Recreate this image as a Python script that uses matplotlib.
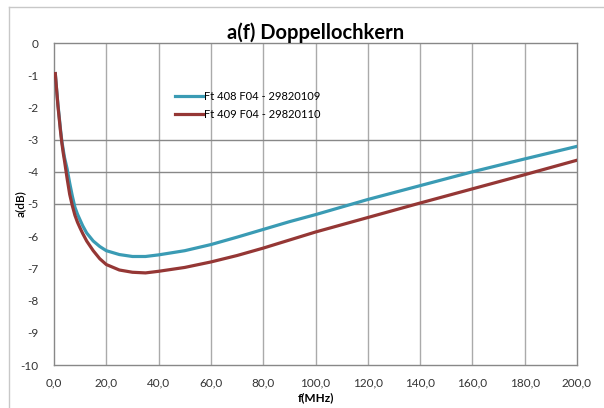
import matplotlib
matplotlib.use("Agg")
import matplotlib.pyplot as plt
from matplotlib.lines import Line2D

# values
freq_mhz = [0.5, 1.0, 1.5, 2.0, 2.5, 3.0, 3.5, 4.0, 5.0, 6.0, 7.0, 8.0, 9.0, 10.0,
            11.0, 12.5, 15.0, 17.5, 20, 25, 30, 35, 40, 50, 60, 70, 80, 90, 100,
            120, 140, 160, 180, 200]
ft408 = [-0.95, -1.45, -1.9, -2.3, -2.7, -3.05, -3.3, -3.55, -3.9, -4.35, -4.75, -5.1,
         -5.32, -5.5, -5.68, -5.9, -6.15, -6.32, -6.45, -6.57, -6.63, -6.63, -6.58,
         -6.45, -6.26, -6.03, -5.79, -5.55, -5.33, -4.86, -4.43, -4.0, -3.6, -3.21]
ft409 = [-0.95, -1.45, -1.95, -2.35, -2.75, -3.1, -3.4, -3.65, -4.2, -4.7, -5.05, -5.35,
         -5.57, -5.75, -5.92, -6.15, -6.45, -6.7, -6.88, -7.05, -7.12, -7.14, -7.09,
         -6.97, -6.8, -6.6, -6.37, -6.12, -5.87, -5.42, -4.97, -4.53, -4.09, -3.64]
series_labels = ["Ft 408 F04 - 29820109", "Ft 409 F04 - 29820110"]
x_ticks = [0, 20, 40, 60, 80, 100, 120, 140, 160, 180, 200]
y_ticks = [0, -1, -2, -3, -4, -5, -6, -7, -8, -9, -10]
grid_db = [-3, -4, -5]

plt.rcParams["font.family"] = ["Lato", "DejaVu Sans"]

fig = plt.figure(figsize=(6.04, 4.08), dpi=100)
fig.patch.set_facecolor("white")
ax = fig.add_axes([54 / 604, 1 - 365 / 408, 523 / 604, 322 / 408])

# outer chart frame (only left and top edges are visible)
fx, fy = 9 / 604, 1 - 7 / 408
fig.add_artist(Line2D([fx, fx], [0, fy], color="#C8C8C8", lw=1.0))
fig.add_artist(Line2D([fx, 1], [fy, fy], color="#C8C8C8", lw=1.0))

for xv in x_ticks[1:-1]:
    ax.axvline(xv, color="#AAAAAA", lw=1.0, zorder=1)
for yv in grid_db:
    ax.axhline(yv, color="#888888", lw=1.0, zorder=1)

ax.plot(freq_mhz, ft408, color="#3A9BB4", lw=2.3, label=series_labels[0], zorder=3)
ax.plot(freq_mhz, ft409, color="#953735", lw=2.3, label=series_labels[1], zorder=3)

ax.set_xlim(0, 200)
ax.set_ylim(-10, 0)
ax.set_xticks(x_ticks)
ax.set_xticklabels([f"{v:.1f}".replace(".", ",") for v in x_ticks])
ax.set_yticks(y_ticks)
ax.set_yticklabels([str(v) for v in y_ticks])
ax.tick_params(length=0, labelsize=8.5, colors="#333333")
ax.tick_params(axis="x", pad=9)
ax.tick_params(axis="y", pad=11)
for sp in ax.spines.values():
    sp.set_color("#888888")
    sp.set_linewidth(1.0)

ax.set_title("a(f) Doppellochkern", fontsize=14.5, fontweight="bold", pad=2)
ax.set_xlabel("f(MHz)", fontsize=8.5, fontweight="bold", labelpad=3)
ax.set_ylabel("a(dB)", fontsize=8.5, fontweight="semibold", labelpad=-4)

ax.legend(loc="upper left", bbox_to_anchor=(0.231, 0.85), frameon=False,
          fontsize=8, handlelength=2.5, handletextpad=0.1, labelspacing=0.6,
          borderpad=0, borderaxespad=0)

fig.savefig("out.png", dpi=100)
